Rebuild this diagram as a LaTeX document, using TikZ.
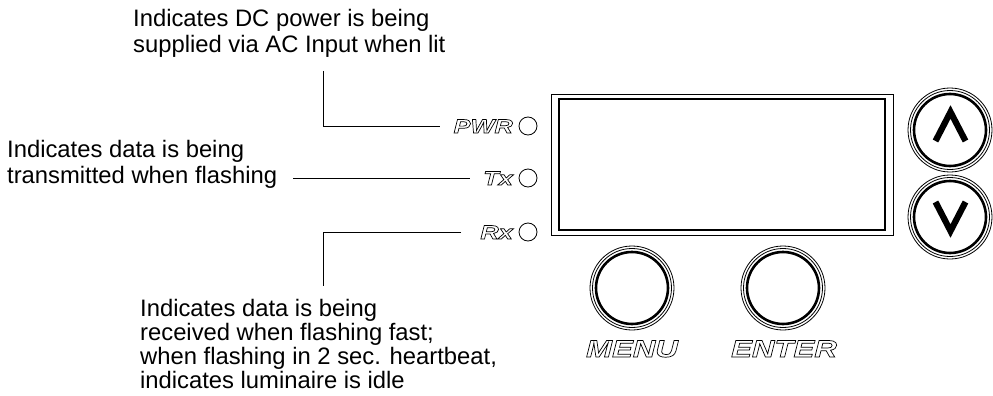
\documentclass[tikz,border=0pt]{standalone}
\usepackage{fontspec}
\setmainfont{Liberation Sans}
\newfontfamily\panelfont[FakeStretch=1.3]{Liberation Sans}
\newcommand\outl[1]{\special{pdf:literal direct 1 Tr 0.7 w}#1\special{pdf:literal direct 0 Tr 1 w}}
\begin{document}
\begin{tikzpicture}[x=1pt,y=-1pt,
  note/.style={inner sep=0pt,align=left,anchor=north west,font=\fontsize{23.8}{26}\selectfont},
  ledlabel/.style={inner sep=0pt,anchor=base east,font=\panelfont\bfseries\itshape\fontsize{19.5}{19.5}\selectfont},
  btnlabel/.style={inner sep=0pt,anchor=base,font=\panelfont\bfseries\itshape\fontsize{24}{24}\selectfont},
  led/.style={draw,circle,minimum size=18pt,inner sep=0pt,line width=0.8pt},
  leader/.style={line width=0.9pt},
  thinline/.style={line width=0.9pt},
  thickline/.style={line width=2.6pt},
  chevron/.style={line width=6.2pt,miter limit=10}]
\useasboundingbox (0,0) rectangle (993,396);
% texts
\node[note] (pwrtext) at (133,9) {Indicates DC power is being\\supplied via AC Input when lit};
\node[note] (txtext) at (7,140) {Indicates data is being\\transmitted when flashing};
\node[note,font=\fontsize{23.8}{24}\selectfont] (rxtext) at (140,299) {Indicates data is being\\received when flashing fast;\\when flashing in 2 sec. heartbeat,\\indicates luminaire is idle};
% LEDs
\node[led] (pwrled) at (528,126) {};
\node[led] (txled) at (528,178) {};
\node[led] (rxled) at (528,232) {};
\node[ledlabel] (pwrlab) at (513,133) {\outl{PWR}};
\node[ledlabel] (txlab) at (513,185) {\outl{Tx}};
\node[ledlabel] (rxlab) at (513,239) {\outl{Rx}};
% leaders
\coordinate (pwrtop) at (323,71);
\coordinate (txstart) at (293,178);
\coordinate (rxbot) at (323,286);
\draw[leader] (pwrtop) |- (440,126) coordinate (pwrend);
\draw[leader] (txstart) -- (470,178) coordinate (txend);
\draw[leader] (461,232) coordinate (rxend) -| (rxbot);
% display
\node[draw,thinline,minimum width=342pt,minimum height=141pt,inner sep=0pt] (dispout) at (722,164.5) {};
\node[draw,thickline,minimum width=326pt,minimum height=131pt,inner sep=0pt] (dispin) at (722,164.5) {};
% buttons
\foreach \n/\cx/\cy in {up/950/130,down/950/217,menu/632/288,enter/783/288}{
  \coordinate (\n) at (\cx,\cy);
  \draw[line width=0.8pt] (\n) circle[radius=42pt];
  \draw[line width=0.8pt] (\n) circle[radius=39.5pt];
  \draw[thickline] (\n) circle[radius=36pt];
}
\draw[chevron] (935.5,141) -- (950.5,112) -- (965.5,141);
\draw[chevron] (935.5,202) -- (950.5,231) -- (965.5,202);
\node[btnlabel] (menulab) at (632,357) {\outl{MENU}};
\node[btnlabel] (enterlab) at (784,357) {\outl{ENTER}};
\end{tikzpicture}
\end{document}
